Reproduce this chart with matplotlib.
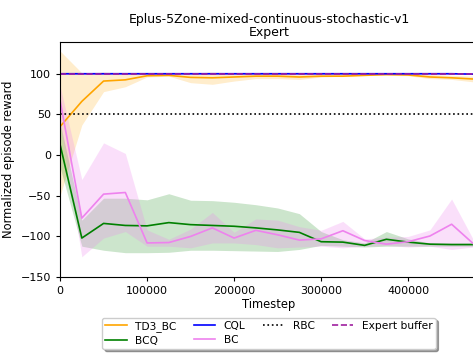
import matplotlib
matplotlib.use('Agg')
import matplotlib.pyplot as plt
import numpy as np

# Evaluation timesteps
timesteps = [0, 25000, 50000, 75000, 100000, 125000, 150000, 175000, 200000, 225000,
             250000, 275000, 300000, 325000, 350000, 375000, 400000, 425000, 450000, 475000]

# TD3_BC mean and band
td3bc_mean = [35, 66, 91, 92.5, 97.5, 98, 95.5, 95, 96, 97, 97, 96, 97, 97, 98, 99, 98.5, 96, 95, 93.5]
td3bc_low = [-50, 37, 78, 84, 96, 97, 89, 87, 91, 94, 94, 93, 96, 97, 98, 98, 97.5, 94, 93, 90]
td3bc_high = [128, 101, 102, 101, 100.5, 100.5, 101, 102, 101, 100.5, 100.5, 100, 100, 100.5, 100.5, 100.5, 100, 99, 98, 97]

# BCQ mean and band
bcq_mean = [13, -102, -84, -86.5, -87, -83, -85.5, -86.5, -87.5, -89.5, -92, -95, -106.5, -107, -111, -103.5, -107, -109.5, -110, -110]
bcq_low = [-15, -112, -117, -120, -120, -119.5, -117, -117, -117.5, -118, -118.5, -116, -111, -112, -113, -112, -112, -112, -112, -112]
bcq_high = [40, -80, -53, -53, -55, -47.5, -55.5, -56, -58, -61, -65, -72, -94, -104, -108, -94, -103, -108, -108, -108]

# CQL mean and band
cql_mean = [100, 100, 100, 100, 100, 100, 100, 100, 100, 100, 100, 100, 100, 100, 100, 100, 100, 100, 100, 99.5]
cql_low = [99, 99.5, 99.5, 99.5, 99.5, 99.5, 99.5, 99.5, 99.5, 99.5, 99.5, 99.5, 99.5, 99.5, 99.5, 99.5, 99.5, 99.5, 99.5, 99]
cql_high = [100.5, 100.5, 100.5, 100.5, 100.5, 100.5, 100.5, 100.5, 100.5, 100.5, 100.5, 100.5, 100.5, 100.5, 100.5, 100.5, 100.5, 100.5, 100.5, 100.5]

# BC mean and band
bc_mean = [67, -77.5, -48, -46, -108, -107.5, -100, -89.5, -102, -92.5, -98, -104.5, -103, -93, -105, -109.5, -106.5, -99.5, -85, -109]
bc_low = [40, -125, -102, -94, -112, -112, -114, -108, -108, -110, -114, -113, -112, -114, -112, -111, -113, -112, -116, -113]
bc_high = [85, -30, 15, 2, -92, -103.5, -91, -70.5, -95, -78.5, -80, -88, -92.5, -81.5, -103, -101, -100, -92, -54, -104]

rbc_level = 50
expert_level = 100

fig = plt.figure(figsize=(4.73, 3.53), dpi=100)
ax = fig.add_axes([0.127, 0.215, 0.883, 0.666])

fs = 8

ax.plot(timesteps, td3bc_mean, color='orange', linewidth=1.2, label='TD3_BC')
ax.fill_between(timesteps, td3bc_low, td3bc_high, color='orange', alpha=0.2, linewidth=0)

ax.plot(timesteps, bcq_mean, color='green', linewidth=1.2, label='BCQ')
ax.fill_between(timesteps, bcq_low, bcq_high, color='green', alpha=0.2, linewidth=0)

ax.plot(timesteps, cql_mean, color='blue', linewidth=1.2, label='CQL')
ax.fill_between(timesteps, cql_low, cql_high, color='blue', alpha=0.2, linewidth=0)

ax.plot(timesteps, bc_mean, color='violet', linewidth=1.2, label='BC')
ax.fill_between(timesteps, bc_low, bc_high, color='violet', alpha=0.25, linewidth=0)

ax.axhline(rbc_level, color='black', linestyle=':', linewidth=1.2, label='RBC')
ax.axhline(expert_level, color='#a020a0', linestyle='--', linewidth=1.2, label='Expert buffer')

ax.set_xlim(0, 480000)
ax.set_ylim(-150, 139)
ax.set_yticks([-150, -100, -50, 0, 50, 100])
ax.set_xticks([0, 100000, 200000, 300000, 400000])
ax.tick_params(labelsize=fs, length=3)

ax.set_xlabel('Timestep', fontsize=8.3, labelpad=1)
ax.set_ylabel('Normalized episode reward', fontsize=8.3)
ax.set_title('Eplus-5Zone-mixed-continuous-stochastic-v1\nExpert', fontsize=9, pad=4,
             linespacing=1.0)

ax.legend(loc='upper center', bbox_to_anchor=(0.5, -0.15), ncol=4, fontsize=7.7,
          shadow=True, frameon=True, borderpad=0.3, labelspacing=0.35,
          columnspacing=1.6)

plt.savefig('out.png', dpi=100)
